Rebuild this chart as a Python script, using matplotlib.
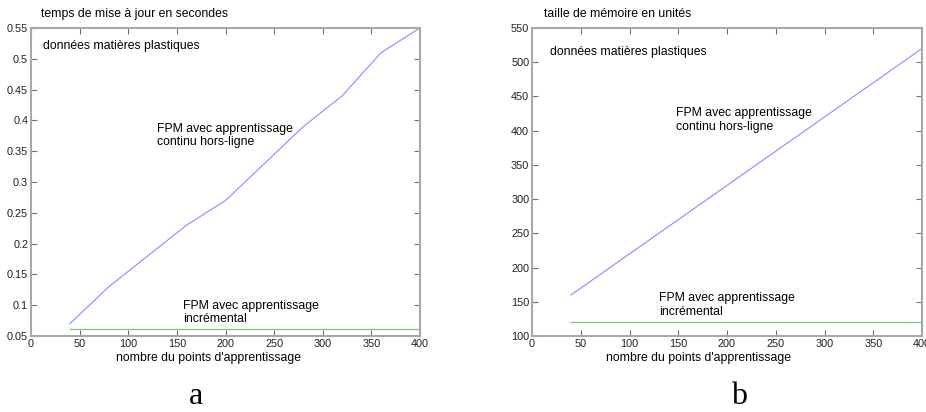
import matplotlib
matplotlib.use("Agg")
import matplotlib.pyplot as plt

plt.rcParams['font.family'] = ['Liberation Sans', 'DejaVu Sans']

# Panel a: update time (s)
a_x = [40, 80, 120, 160, 200, 240, 280, 320, 360, 400]
a_offline = [0.07, 0.13, 0.18, 0.23, 0.27, 0.33, 0.39, 0.44, 0.51, 0.55]
a_incr_x = [40, 400]
a_incr = [0.061, 0.061]
a_yticks = [0.05, 0.1, 0.15, 0.2, 0.25, 0.3, 0.35, 0.4, 0.45, 0.5, 0.55]
a_yticklabels = ['0.05', '0.1', '0.15', '0.2', '0.25', '0.3', '0.35', '0.4', '0.45', '0.5', '0.55']

# Panel b: memory size (units)
b_x = [40, 400]
b_offline = [160, 520]
b_incr_x = [40, 400]
b_incr = [120, 120]
b_yticks = [100, 150, 200, 250, 300, 350, 400, 450, 500, 550]

xticks = [0, 50, 100, 150, 200, 250, 300, 350, 400]

W, H = 926, 412
fig = plt.figure(figsize=(W / 100, H / 100), dpi=100)
fig.patch.set_facecolor('white')

blue = '#8a8aff'
green = '#7cc47c'
spine_c = '#a8a8a8'
tick_c = '#707070'
fs = 8.8

def make_ax(x0, x1, y0, y1):
    return fig.add_axes([x0 / W, 1 - y1 / H, (x1 - x0) / W, (y1 - y0) / H])

def style(ax):
    for s in ax.spines.values():
        s.set_color(spine_c)
        s.set_linewidth(1.5)
    ax.tick_params(direction='in', top=True, right=True, length=4, width=0.8,
                   color=tick_c, labelsize=7.8, labelcolor='#202020', pad=2)

axa = make_ax(31, 420, 28, 336)
axa.plot(a_x, a_offline, color=blue, lw=0.8)
axa.plot(a_incr_x, a_incr, color=green, lw=0.9)
axa.set_xlim(0, 400)
axa.set_ylim(0.05, 0.55)
axa.set_xticks(xticks)
axa.set_yticks(a_yticks)
axa.set_yticklabels(a_yticklabels)
style(axa)
axa.text(12, 0.521, 'données matières plastiques', fontsize=fs, va='center', ha='left')
axa.text(130, 0.396, 'FPM avec apprentissage\ncontinu hors-ligne', fontsize=fs,
         va='top', ha='left', linespacing=1.15)
axa.text(156, 0.109, 'FPM avec apprentissage\nincrémental', fontsize=fs,
         va='top', ha='left', linespacing=1.15)

axb = make_ax(532, 922, 28, 336)
axb.plot(b_x, b_offline, color=blue, lw=0.8)
axb.plot(b_incr_x, b_incr, color=green, lw=0.9)
axb.set_xlim(0, 400)
axb.set_ylim(100, 550)
axb.set_xticks(xticks)
axb.set_yticks(b_yticks)
style(axb)
axb.text(18.5, 515, 'données matières plastiques', fontsize=fs, va='center', ha='left')
axb.text(148, 434, 'FPM avec apprentissage\ncontinu hors-ligne', fontsize=fs,
         va='top', ha='left', linespacing=1.15)
axb.text(130, 164, 'FPM avec apprentissage\nincrémental', fontsize=fs,
         va='top', ha='left', linespacing=1.15)

# titles / labels
fig.text(41 / W, 1 - 14 / H, 'temps de mise à jour en secondes', fontsize=fs, ha='left', va='center')
fig.text(544 / W, 1 - 14 / H, 'taille de mémoire en unités', fontsize=fs, ha='left', va='center')
fig.text(209 / W, 1 - 358 / H, "nombre du points d'apprentissage", fontsize=fs, ha='center', va='center')
fig.text(699 / W, 1 - 358 / H, "nombre du points d'apprentissage", fontsize=fs, ha='center', va='center')
fig.text(196 / W, 1 - 396 / H, 'a', fontsize=23, ha='center', va='center', family=['Liberation Serif'])
fig.text(739 / W, 1 - 396 / H, 'b', fontsize=23, ha='center', va='center', family=['Liberation Serif'])

fig.savefig('out.png', dpi=100, facecolor='white')
